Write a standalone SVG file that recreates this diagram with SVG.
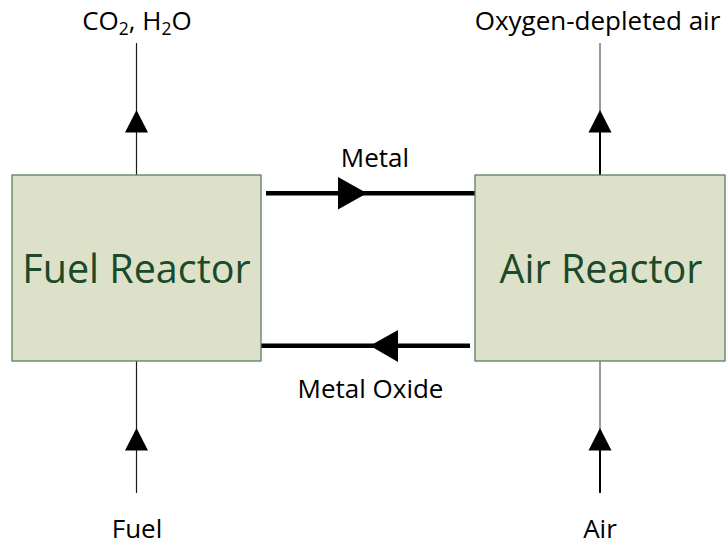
<svg xmlns="http://www.w3.org/2000/svg" width="727" height="546" viewBox="0 0 727 546">
<style>
.box{fill:#DDE1CA;stroke:#5F7D5E;stroke-width:1.3}
.big{font-family:"Open Sans","Liberation Sans",sans-serif;font-size:39.5px;fill:#1A4A28;text-anchor:middle}
.lbl{font-family:"Open Sans","Liberation Sans",sans-serif;font-size:26px;fill:#000;text-anchor:middle}
.thin{stroke:#1a1a1a;stroke-width:1.2;fill:none}
.gray{stroke:#808080;stroke-width:1.6;fill:none}
.blk{stroke:#000;stroke-width:2;fill:none}
.thick{stroke:#000;stroke-width:4.6;fill:none}
.head{fill:#000}
</style>
<rect width="727" height="546" fill="#fff"/>
<g id="connectors">
  <line class="thin" x1="136.5" y1="43" x2="136.5" y2="175"/>
  <polygon class="head" points="136.5,110 125,132.5 148,132.5"/>
  <line class="thin" x1="136.5" y1="361" x2="136.5" y2="493"/>
  <polygon class="head" points="136.5,428 125,450.5 148,450.5"/>
  <line class="gray" x1="600" y1="43" x2="600" y2="112"/>
  <line class="blk" x1="600" y1="130" x2="600" y2="175"/>
  <polygon class="head" points="600,110 588.5,132.5 611.5,132.5"/>
  <line class="gray" x1="600" y1="361" x2="600" y2="430"/>
  <line class="blk" x1="600" y1="448" x2="600" y2="493"/>
  <polygon class="head" points="600,428 588.5,450.5 611.5,450.5"/>
  <line class="thick" x1="266" y1="193.3" x2="475" y2="193.3"/>
  <polygon class="head" points="338,177 367,193.3 338,209.5"/>
  <line class="thick" x1="261" y1="345.8" x2="470" y2="345.8"/>
  <polygon class="head" points="398,330 370,345.8 398,362"/>
</g>
<g id="fuel-reactor">
  <rect class="box" x="12" y="175" width="249" height="186"/>
  <text class="big" x="136.5" y="283">Fuel Reactor</text>
</g>
<g id="air-reactor">
  <rect class="box" x="475" y="175" width="250" height="186"/>
  <text class="big" x="601" y="283">Air Reactor</text>
</g>
<g id="labels">
  <text class="lbl" x="137" y="30">CO<tspan font-size="17.5" dy="5">2</tspan><tspan dy="-5">, H</tspan><tspan font-size="17.5" dy="5">2</tspan><tspan dy="-5">O</tspan></text>
  <text class="lbl" x="597.5" y="30">Oxygen-depleted air</text>
  <text class="lbl" x="375" y="166.5">Metal</text>
  <text class="lbl" x="370.5" y="398">Metal Oxide</text>
  <text class="lbl" x="137" y="538">Fuel</text>
  <text class="lbl" x="600" y="538">Air</text>
</g>
</svg>
